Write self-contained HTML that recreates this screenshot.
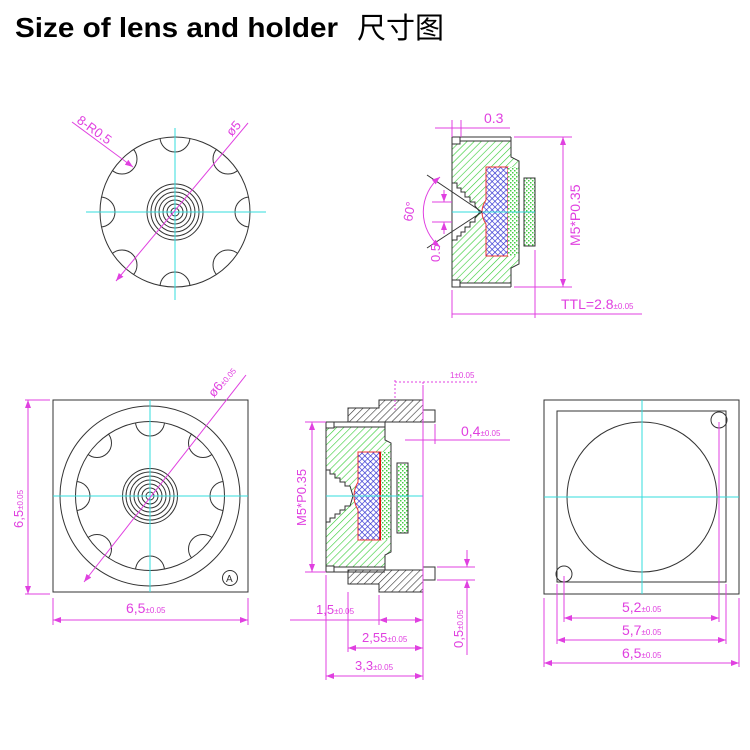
<!DOCTYPE html>
<html><head><meta charset="utf-8"><style>
html,body{margin:0;padding:0;background:#fff;}
svg{display:block}
.t{font-family:"Liberation Sans",sans-serif;fill:#e040e0;}
</style></head><body>
<svg width="750" height="750" viewBox="0 0 750 750" xmlns="http://www.w3.org/2000/svg">
<defs>
<pattern id="gh" width="5" height="5" patternUnits="userSpaceOnUse" patternTransform="rotate(45)">
<rect width="5" height="5" fill="#fff"/><line x1="0" y1="0" x2="0" y2="5" stroke="#33cc33" stroke-width="1.2"/></pattern>
<pattern id="bh" width="4" height="4" patternUnits="userSpaceOnUse" patternTransform="rotate(45)">
<rect width="4" height="4" fill="#fff"/><line x1="0" y1="0" x2="0" y2="4" stroke="#2a2ad0" stroke-width="1.3"/><line x1="0" y1="0" x2="4" y2="0" stroke="#2a2ad0" stroke-width="1.3"/></pattern>
<pattern id="kh" width="5" height="5" patternUnits="userSpaceOnUse" patternTransform="rotate(45)">
<rect width="5" height="5" fill="#fff"/><line x1="0" y1="0" x2="0" y2="5" stroke="#333" stroke-width="1.2"/></pattern>
<pattern id="sp" width="4" height="4" patternUnits="userSpaceOnUse">
<rect width="4" height="4" fill="#fff"/><rect x="0" y="0" width="1.5" height="1.5" fill="#44cc44"/><rect x="2" y="2" width="1.5" height="1.5" fill="#44cc44"/></pattern>
<clipPath id="c1"><circle cx="175" cy="212" r="75"/></clipPath>
<clipPath id="c2"><circle cx="150" cy="496" r="74.5"/></clipPath>
<marker id="ar" markerWidth="8" markerHeight="6" refX="8" refY="3" orient="auto-start-reverse" markerUnits="userSpaceOnUse"><path d="M0,0 L8,3 L0,6z" fill="#e040e0"/></marker>
</defs>

<text x="15" y="37" font-family="Liberation Sans,sans-serif" font-weight="bold" font-size="28" fill="#000" textLength="323" lengthAdjust="spacingAndGlyphs">Size of lens and holder</text>
<text x="357" y="38" font-family="Liberation Sans,Noto Sans CJK SC,sans-serif" font-size="29" fill="#000">尺寸图</text>

<!-- top-left lens -->
<g fill="none" stroke="#333" stroke-width="1">
<circle cx="175" cy="212" r="75"/>
<g clip-path="url(#c1)">
<circle cx="175" cy="137" r="15"/><circle cx="175" cy="287" r="15"/><circle cx="100" cy="212" r="15"/><circle cx="250" cy="212" r="15"/>
<circle cx="122" cy="159" r="15"/><circle cx="228" cy="159" r="15"/><circle cx="122" cy="265" r="15"/><circle cx="228" cy="265" r="15"/>
</g>
<circle cx="175" cy="212" r="28"/><circle cx="175" cy="212" r="24"/><circle cx="175" cy="212" r="20"/><circle cx="175" cy="212" r="16"/><circle cx="175" cy="212" r="12"/><circle cx="175" cy="212" r="8"/><circle cx="175" cy="212" r="4"/>
</g>
<g stroke="#33dddd" stroke-width="1"><line x1="86" y1="212" x2="266" y2="212"/><line x1="175" y1="128" x2="175" y2="300"/></g>
<g stroke="#e040e0" stroke-width="1" fill="none">
<line x1="116" y1="281" x2="248" y2="123" marker-start="url(#ar)"/>
<line x1="72" y1="122" x2="133" y2="167" marker-end="url(#ar)"/>
</g>
<text class="t" font-size="13" transform="translate(76,122) rotate(36)">8-R0.5</text>
<text class="t" font-size="13" transform="translate(232,137) rotate(-50)">ø5</text>

<!-- top-right side view -->
<path d="M452,141 L511,141 L511,157 L519,161 L519,264 L511,268 L511,283 L452,283 Z" fill="url(#gh)" stroke="#333"/>
<rect x="452" y="137" width="8" height="7" fill="#fff" stroke="#333"/>
<rect x="452" y="280" width="8" height="7" fill="#fff" stroke="#333"/>
<line x1="460" y1="137" x2="511" y2="137" stroke="#333"/><line x1="460" y1="287" x2="511" y2="287" stroke="#333"/>
<line x1="511" y1="137" x2="511" y2="141" stroke="#333"/><line x1="511" y1="283" x2="511" y2="287" stroke="#333"/>
<path d="M452,183 L457,183 L457,188 L461,188 L461,192 L465,192 L465,197 L470,197 L470,202 L475,202 L475,206 L480,212 L475,218 L475,222 L470,222 L470,227 L465,227 L465,232 L461,232 L461,236 L457,236 L457,240 L452,240 Z" fill="#fff" stroke="#333"/>
<path d="M486,167 L508,167 L508,256 L486,256 L486,224 Q478,212 486,200 Z" fill="url(#bh)" stroke="#e33" stroke-width="1"/>
<rect x="508" y="167" width="10" height="89" fill="url(#sp)"/>
<rect x="524" y="178" width="11" height="68" fill="url(#sp)" stroke="#333"/>
<line x1="452" y1="212" x2="535" y2="212" stroke="#33dddd"/>
<g stroke="#333" fill="none"><line x1="427" y1="175" x2="482" y2="212"/><line x1="427" y1="248" x2="482" y2="212"/></g>
<g stroke="#e040e0" fill="none">
<path d="M440,177 A45,45 0 0,0 440,247" marker-start="url(#ar)" marker-end="url(#ar)"/>
<line x1="435" y1="128" x2="510" y2="128"/><line x1="452" y1="120" x2="452" y2="137"/><line x1="461" y1="120" x2="461" y2="137"/>
<line x1="432" y1="202" x2="452" y2="202"/><line x1="432" y1="222" x2="452" y2="222"/><line x1="444" y1="190" x2="444" y2="202" marker-end="url(#ar)"/><line x1="444" y1="234" x2="444" y2="222" marker-end="url(#ar)"/>
<line x1="514" y1="137" x2="572" y2="137"/><line x1="514" y1="287" x2="572" y2="287"/>
<line x1="563" y1="137" x2="563" y2="287" marker-start="url(#ar)" marker-end="url(#ar)"/>
<line x1="452" y1="290" x2="452" y2="318"/><line x1="535" y1="250" x2="535" y2="318"/>
<line x1="452" y1="314" x2="642" y2="314"/>
</g>
<text class="t" font-size="14" x="484" y="123">0.3</text>
<text class="t" font-size="13" transform="translate(412,222) rotate(-80)">60°</text>
<text class="t" font-size="13" transform="translate(440,262) rotate(-90)">0.5</text>
<text class="t" font-size="14" transform="translate(580,246) rotate(-90)">M5*P0.35</text>
<text class="t" font-size="14" x="561" y="309">TTL=2.8<tspan font-size="8">±0.05</tspan></text>

<!-- bottom-left front -->
<g fill="none" stroke="#333">
<rect x="53" y="400" width="195" height="192"/>
<circle cx="150" cy="496" r="90"/><circle cx="150" cy="496" r="74.5"/>
<g clip-path="url(#c2)">
<circle cx="150" cy="421.5" r="14.5"/><circle cx="150" cy="570.5" r="14.5"/><circle cx="75.5" cy="496" r="14.5"/><circle cx="224.5" cy="496" r="14.5"/>
<circle cx="97" cy="443" r="14.5"/><circle cx="203" cy="443" r="14.5"/><circle cx="97" cy="549" r="14.5"/><circle cx="203" cy="549" r="14.5"/>
</g>
<circle cx="150" cy="496" r="27.5"/><circle cx="150" cy="496" r="24"/><circle cx="150" cy="496" r="20"/><circle cx="150" cy="496" r="16"/><circle cx="150" cy="496" r="12"/><circle cx="150" cy="496" r="8"/><circle cx="150" cy="496" r="4"/>
<circle cx="230" cy="578" r="7.5"/>
</g>
<text x="226" y="582" font-family="Liberation Sans,sans-serif" font-size="10" fill="#333">A</text>
<g stroke="#33dddd"><line x1="53" y1="496" x2="248" y2="496"/><line x1="150" y1="400" x2="150" y2="592"/></g>
<g stroke="#e040e0" fill="none">
<line x1="84" y1="582" x2="246" y2="375" marker-start="url(#ar)"/>
<line x1="25" y1="400" x2="50" y2="400"/><line x1="25" y1="594" x2="50" y2="594"/>
<line x1="28" y1="400" x2="28" y2="594" marker-start="url(#ar)" marker-end="url(#ar)"/>
<line x1="53" y1="598" x2="53" y2="625"/><line x1="248" y1="598" x2="248" y2="625"/>
<line x1="53" y1="620" x2="248" y2="620" marker-start="url(#ar)" marker-end="url(#ar)"/>
</g>
<text class="t" font-size="13" transform="translate(214,398) rotate(-50)">ø6<tspan font-size="8">±0.05</tspan></text>
<text class="t" font-size="13" transform="translate(23,528) rotate(-90)">6,5<tspan font-size="8">±0.05</tspan></text>
<text class="t" font-size="14" x="126" y="613">6,5<tspan font-size="8">±0.05</tspan></text>

<!-- bottom-middle side -->
<rect x="385" y="400" width="38" height="192" fill="#fff" stroke="#333"/>
<path d="M348,408 L379,408 L379,400 L423,400 L423,422 L348,422 Z" fill="url(#kh)" stroke="#333"/>
<path d="M348,570 L423,570 L423,592 L379,592 L379,584 L348,584 Z" fill="url(#kh)" stroke="#333"/>
<rect x="385" y="422" width="38" height="148" fill="#fff" stroke="#333"/>
<rect x="423" y="410" width="12" height="12" fill="#fff" stroke="#333"/>
<rect x="423" y="567" width="12" height="13" fill="#fff" stroke="#333"/>
<path d="M326,427 L385,427 L385,440 L391,443 L391,552 L385,555 L385,567 L326,567 Z" fill="url(#gh)" stroke="#333"/>
<rect x="326" y="422" width="8" height="6" fill="#fff" stroke="#333"/>
<rect x="326" y="566" width="8" height="6" fill="#fff" stroke="#333"/>
<line x1="334" y1="422" x2="385" y2="422" stroke="#333"/><line x1="334" y1="572" x2="385" y2="572" stroke="#333"/>
<path d="M326,470 L330,470 L330,474 L335,474 L335,478 L340,478 L340,482 L345,482 L345,486 L350,486 L353,496 L350,506 L345,506 L345,510 L340,510 L340,514 L335,514 L335,518 L330,518 L330,522 L326,522 Z" fill="#fff" stroke="#333"/>
<path d="M358,452 L381,452 L381,540 L358,540 L358,510 Q350,496 358,482 Z" fill="url(#bh)" stroke="#e33"/>
<rect x="381" y="452" width="9" height="88" fill="url(#sp)"/>
<line x1="380" y1="452" x2="380" y2="540" stroke="#d00" stroke-width="1.5"/>
<rect x="397" y="463" width="11" height="70" fill="url(#sp)" stroke="#333"/>
<line x1="326" y1="496" x2="423" y2="496" stroke="#33dddd"/>
<g stroke="#e040e0" fill="none">
<line x1="305" y1="422" x2="326" y2="422"/><line x1="305" y1="572" x2="326" y2="572"/>
<line x1="312" y1="422" x2="312" y2="572" marker-start="url(#ar)" marker-end="url(#ar)"/>
<line x1="326" y1="575" x2="326" y2="680"/><line x1="348" y1="592" x2="348" y2="652"/><line x1="379" y1="595" x2="379" y2="625"/><line x1="423" y1="385" x2="423" y2="680"/>
<line x1="290" y1="620" x2="423" y2="620"/><line x1="379" y1="620" x2="423" y2="620" marker-start="url(#ar)" marker-end="url(#ar)"/>
<line x1="348" y1="648" x2="423" y2="648" marker-start="url(#ar)" marker-end="url(#ar)"/>
<line x1="326" y1="676" x2="423" y2="676" marker-start="url(#ar)" marker-end="url(#ar)"/>
<line x1="405" y1="440" x2="510" y2="440"/><line x1="435" y1="424" x2="435" y2="444"/>
<line x1="437" y1="567" x2="475" y2="567"/><line x1="437" y1="580" x2="475" y2="580"/>
<line x1="467" y1="550" x2="467" y2="567" marker-end="url(#ar)"/><line x1="467" y1="655" x2="467" y2="580" marker-end="url(#ar)"/>
<g stroke-dasharray="2,2"><line x1="395" y1="382" x2="478" y2="382"/><line x1="395" y1="380" x2="395" y2="410"/><line x1="423" y1="382" x2="423" y2="400"/></g>
</g>
<text class="t" font-size="14" x="461" y="436">0,4<tspan font-size="8">±0.05</tspan></text>
<text class="t" font-size="8" x="450" y="378">1±0.05</text>
<text class="t" font-size="13" transform="translate(306,526) rotate(-90)">M5*P0.35</text>
<text class="t" font-size="13" x="316" y="614">1,5<tspan font-size="8">±0.05</tspan></text>
<text class="t" font-size="13" x="362" y="642">2,55<tspan font-size="8">±0.05</tspan></text>
<text class="t" font-size="13" x="355" y="670">3,3<tspan font-size="8">±0.05</tspan></text>
<text class="t" font-size="13" transform="translate(463,648) rotate(-90)">0,5<tspan font-size="8">±0.05</tspan></text>

<!-- bottom-right back -->
<g fill="none" stroke="#333">
<rect x="544" y="400" width="195" height="194"/>
<rect x="557" y="411" width="169" height="171"/>
<circle cx="642" cy="497" r="75"/>
<circle cx="719" cy="420" r="8"/><circle cx="564" cy="574" r="8"/>
</g>
<g stroke="#33dddd"><line x1="544" y1="497" x2="739" y2="497"/><line x1="642" y1="400" x2="642" y2="594"/></g>
<g stroke="#e040e0" fill="none">
<line x1="564" y1="576" x2="564" y2="622"/><line x1="719" y1="422" x2="719" y2="622"/>
<line x1="557" y1="584" x2="557" y2="644"/><line x1="726" y1="584" x2="726" y2="644"/>
<line x1="544" y1="598" x2="544" y2="667"/><line x1="739" y1="598" x2="739" y2="667"/>
<line x1="564" y1="618" x2="719" y2="618" marker-start="url(#ar)" marker-end="url(#ar)"/>
<line x1="557" y1="640" x2="726" y2="640" marker-start="url(#ar)" marker-end="url(#ar)"/>
<line x1="544" y1="663" x2="739" y2="663" marker-start="url(#ar)" marker-end="url(#ar)"/>
</g>
<text class="t" font-size="14" x="622" y="612">5,2<tspan font-size="8">±0.05</tspan></text>
<text class="t" font-size="14" x="622" y="635">5,7<tspan font-size="8">±0.05</tspan></text>
<text class="t" font-size="14" x="622" y="658">6,5<tspan font-size="8">±0.05</tspan></text>
</svg>
</body></html>
